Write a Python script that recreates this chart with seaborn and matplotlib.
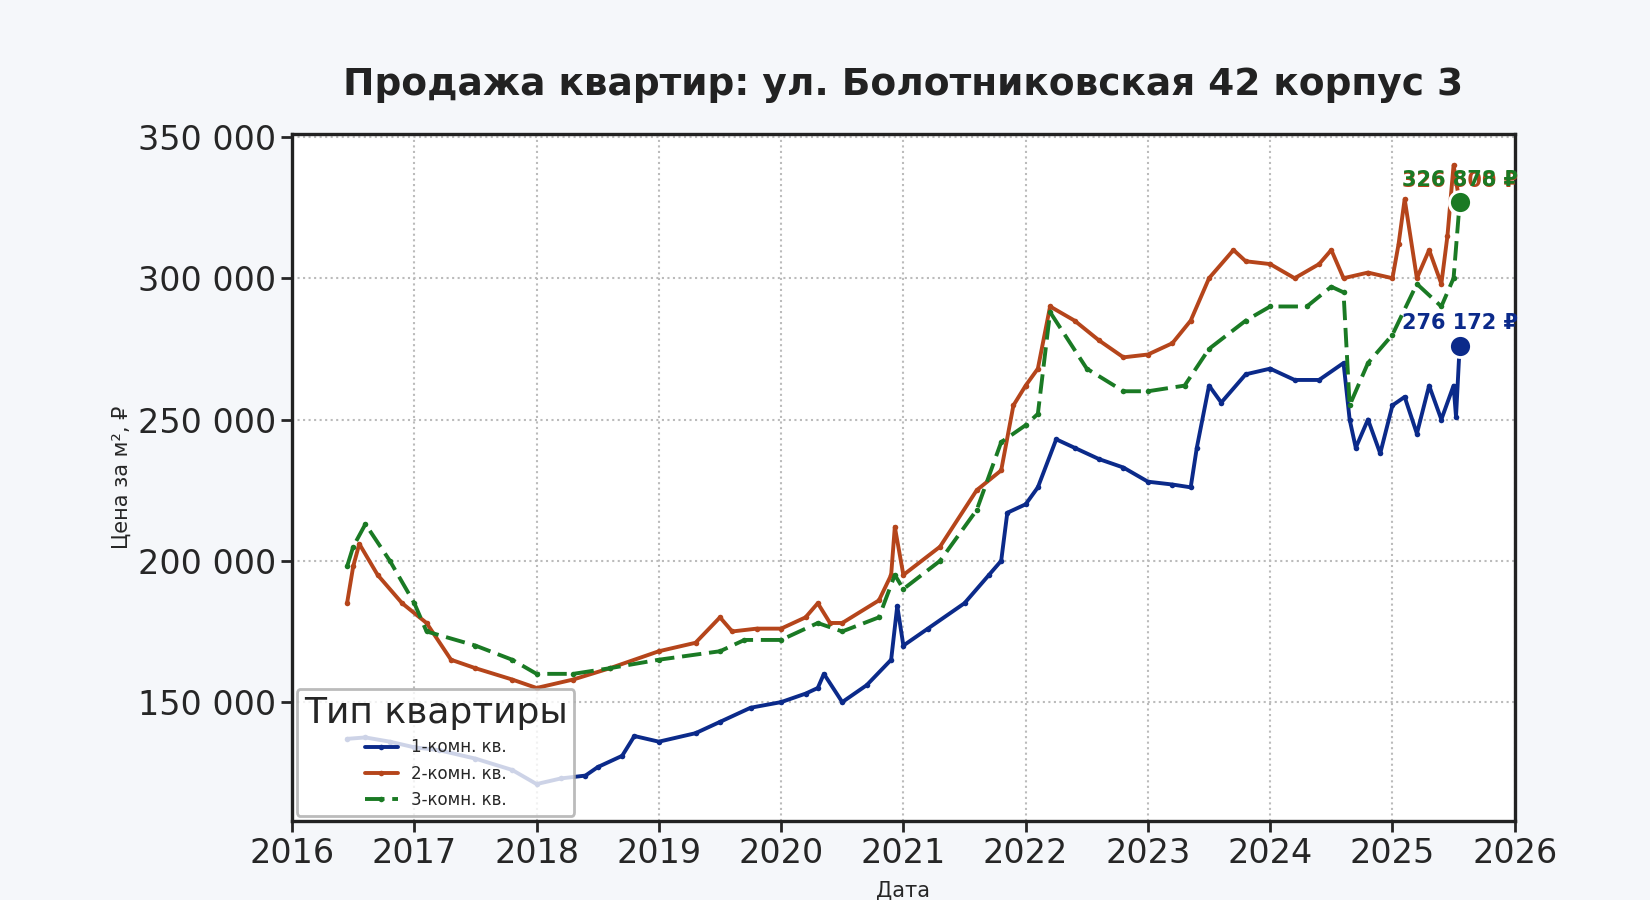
import pandas as pd
import numpy as np
import matplotlib
matplotlib.use("Agg")
import matplotlib.pyplot as plt
import matplotlib.ticker as mticker
import seaborn as sns

# data (decimal years)
t1 = [2016.45, 2016.6, 2016.8, 2017.0, 2017.2, 2017.5, 2017.8, 2018.0, 2018.2, 2018.4, 2018.5,
      2018.7, 2018.8, 2019.0, 2019.3, 2019.5, 2019.75, 2020.0, 2020.2, 2020.3, 2020.35, 2020.5,
      2020.7, 2020.9, 2020.95, 2021.0, 2021.2, 2021.5, 2021.7, 2021.8, 2021.85, 2022.0, 2022.1,
      2022.25, 2022.4, 2022.6, 2022.8, 2023.0, 2023.2, 2023.35, 2023.4, 2023.5, 2023.6, 2023.8,
      2024.0, 2024.2, 2024.4, 2024.6, 2024.65, 2024.7, 2024.8, 2024.9, 2025.0, 2025.1, 2025.2,
      2025.3, 2025.4, 2025.5, 2025.52, 2025.55]
v1 = [137000, 137500, 136000, 134000, 133000, 130000, 126000, 121000, 123000, 124000, 127000,
      131000, 138000, 136000, 139000, 143000, 148000, 150000, 153000, 155000, 160000, 150000,
      156000, 165000, 184000, 170000, 176000, 185000, 195000, 200000, 217000, 220000, 226000,
      243000, 240000, 236000, 233000, 228000, 227000, 226000, 240000, 262000, 256000, 266000,
      268000, 264000, 264000, 270000, 250000, 240000, 250000, 238000, 255000, 258000, 245000,
      262000, 250000, 262000, 251000, 276172]

t2 = [2016.45, 2016.5, 2016.55, 2016.7, 2016.9, 2017.1, 2017.3, 2017.5, 2017.8, 2018.0, 2018.3,
      2018.6, 2019.0, 2019.3, 2019.5, 2019.6, 2019.8, 2020.0, 2020.2, 2020.3, 2020.4, 2020.5,
      2020.8, 2020.9, 2020.93, 2021.0, 2021.3, 2021.6, 2021.8, 2021.9, 2022.0, 2022.1, 2022.2,
      2022.4, 2022.6, 2022.8, 2023.0, 2023.2, 2023.35, 2023.5, 2023.7, 2023.8, 2024.0, 2024.2,
      2024.4, 2024.5, 2024.6, 2024.8, 2025.0, 2025.05, 2025.1, 2025.2, 2025.3, 2025.4, 2025.45,
      2025.5, 2025.55]
v2 = [185000, 198000, 206000, 195000, 185000, 178000, 165000, 162000, 158000, 155000, 158000,
      162000, 168000, 171000, 180000, 175000, 176000, 176000, 180000, 185000, 178000, 178000,
      186000, 195000, 212000, 195000, 205000, 225000, 232000, 255000, 262000, 268000, 290000,
      285000, 278000, 272000, 273000, 277000, 285000, 300000, 310000, 306000, 305000, 300000,
      305000, 310000, 300000, 302000, 300000, 312000, 328000, 300000, 310000, 298000, 315000,
      340000, 326500]

t3 = [2016.45, 2016.5, 2016.6, 2016.8, 2017.0, 2017.1, 2017.5, 2017.8, 2018.0, 2018.3, 2018.6,
      2019.0, 2019.5, 2019.7, 2020.0, 2020.3, 2020.5, 2020.8, 2020.93, 2021.0, 2021.3, 2021.6,
      2021.8, 2022.0, 2022.1, 2022.2, 2022.5, 2022.8, 2023.0, 2023.3, 2023.5, 2023.8, 2024.0,
      2024.3, 2024.5, 2024.6, 2024.65, 2024.8, 2025.0, 2025.2, 2025.4, 2025.5, 2025.55]
v3 = [198000, 205000, 213000, 200000, 185000, 175000, 170000, 165000, 160000, 160000, 162000,
      165000, 168000, 172000, 172000, 178000, 175000, 180000, 195000, 190000, 200000, 218000,
      242000, 248000, 252000, 288000, 268000, 260000, 260000, 262000, 275000, 285000, 290000,
      290000, 297000, 295000, 255000, 270000, 280000, 298000, 290000, 300000, 326878]

series = ["1-комн. кв.", "2-комн. кв.", "3-комн. кв."]
colors = ["#0b2a8a", "#b5451b", "#1a7a24"]

df = pd.concat([
    pd.DataFrame({"year": t1, "price": v1, "type": series[0]}),
    pd.DataFrame({"year": t2, "price": v2, "type": series[1]}),
    pd.DataFrame({"year": t3, "price": v3, "type": series[2]}),
])

sns.set_theme(style="ticks")
plt.rcParams["font.family"] = ["DejaVu Sans"]

fig = plt.figure(figsize=(16.5, 9), dpi=100, facecolor="#f5f7fa")
ax = fig.add_axes([0.177, 0.088, 0.741, 0.763])
ax.set_facecolor("white")

styles = {series[0]: "", series[1]: "", series[2]: (5, 2)}
sns.lineplot(data=df, x="year", y="price", hue="type", style="type", dashes=styles,
             palette=colors, linewidth=2.8, marker="o", markersize=4, markeredgewidth=0, ax=ax)

# end points with labels
for t, v, c in [(t2, v2, colors[1]), (t3, v3, colors[2]), (t1, v1, colors[0])]:
    ax.scatter(t[-1], v[-1], s=250, color=c, edgecolor="white", linewidth=2, zorder=5)
    ax.annotate(f"{v[-1]:,}".replace(",", " ") + " ₽", (t[-1], v[-1]), xytext=(0, 12),
                textcoords="offset points", ha="center", fontsize=15, fontweight="bold", color=c)

ax.set_xlim(2016, 2026)
ax.set_ylim(108000, 351000)
ax.set_xticks(range(2016, 2027))
ax.set_yticks([150000, 200000, 250000, 300000, 350000])
ax.yaxis.set_major_formatter(mticker.FuncFormatter(lambda x, p: f"{int(x):,}".replace(",", " ")))
ax.tick_params(labelsize=24, length=8, width=2)
ax.grid(True, linestyle=":", color="#bbbbbb", linewidth=1.5)
for s in ax.spines.values():
    s.set_linewidth(2.4)
    s.set_color("#222222")

ax.set_title("Продажа квартир: ул. Болотниковская 42 корпус 3", fontsize=27,
             fontweight="bold", pad=28, color="#222222")
ax.set_xlabel("Дата", fontsize=15, labelpad=8)
ax.set_ylabel("Цена за м², ₽", fontsize=15)

leg = ax.legend(title="Тип квартиры", loc="lower left", fontsize=12, title_fontsize=26,
                framealpha=0.8, edgecolor="#aaaaaa", borderaxespad=0.3)
leg.get_frame().set_linewidth(2)

fig.savefig("out.png", dpi=100, facecolor=fig.get_facecolor())
